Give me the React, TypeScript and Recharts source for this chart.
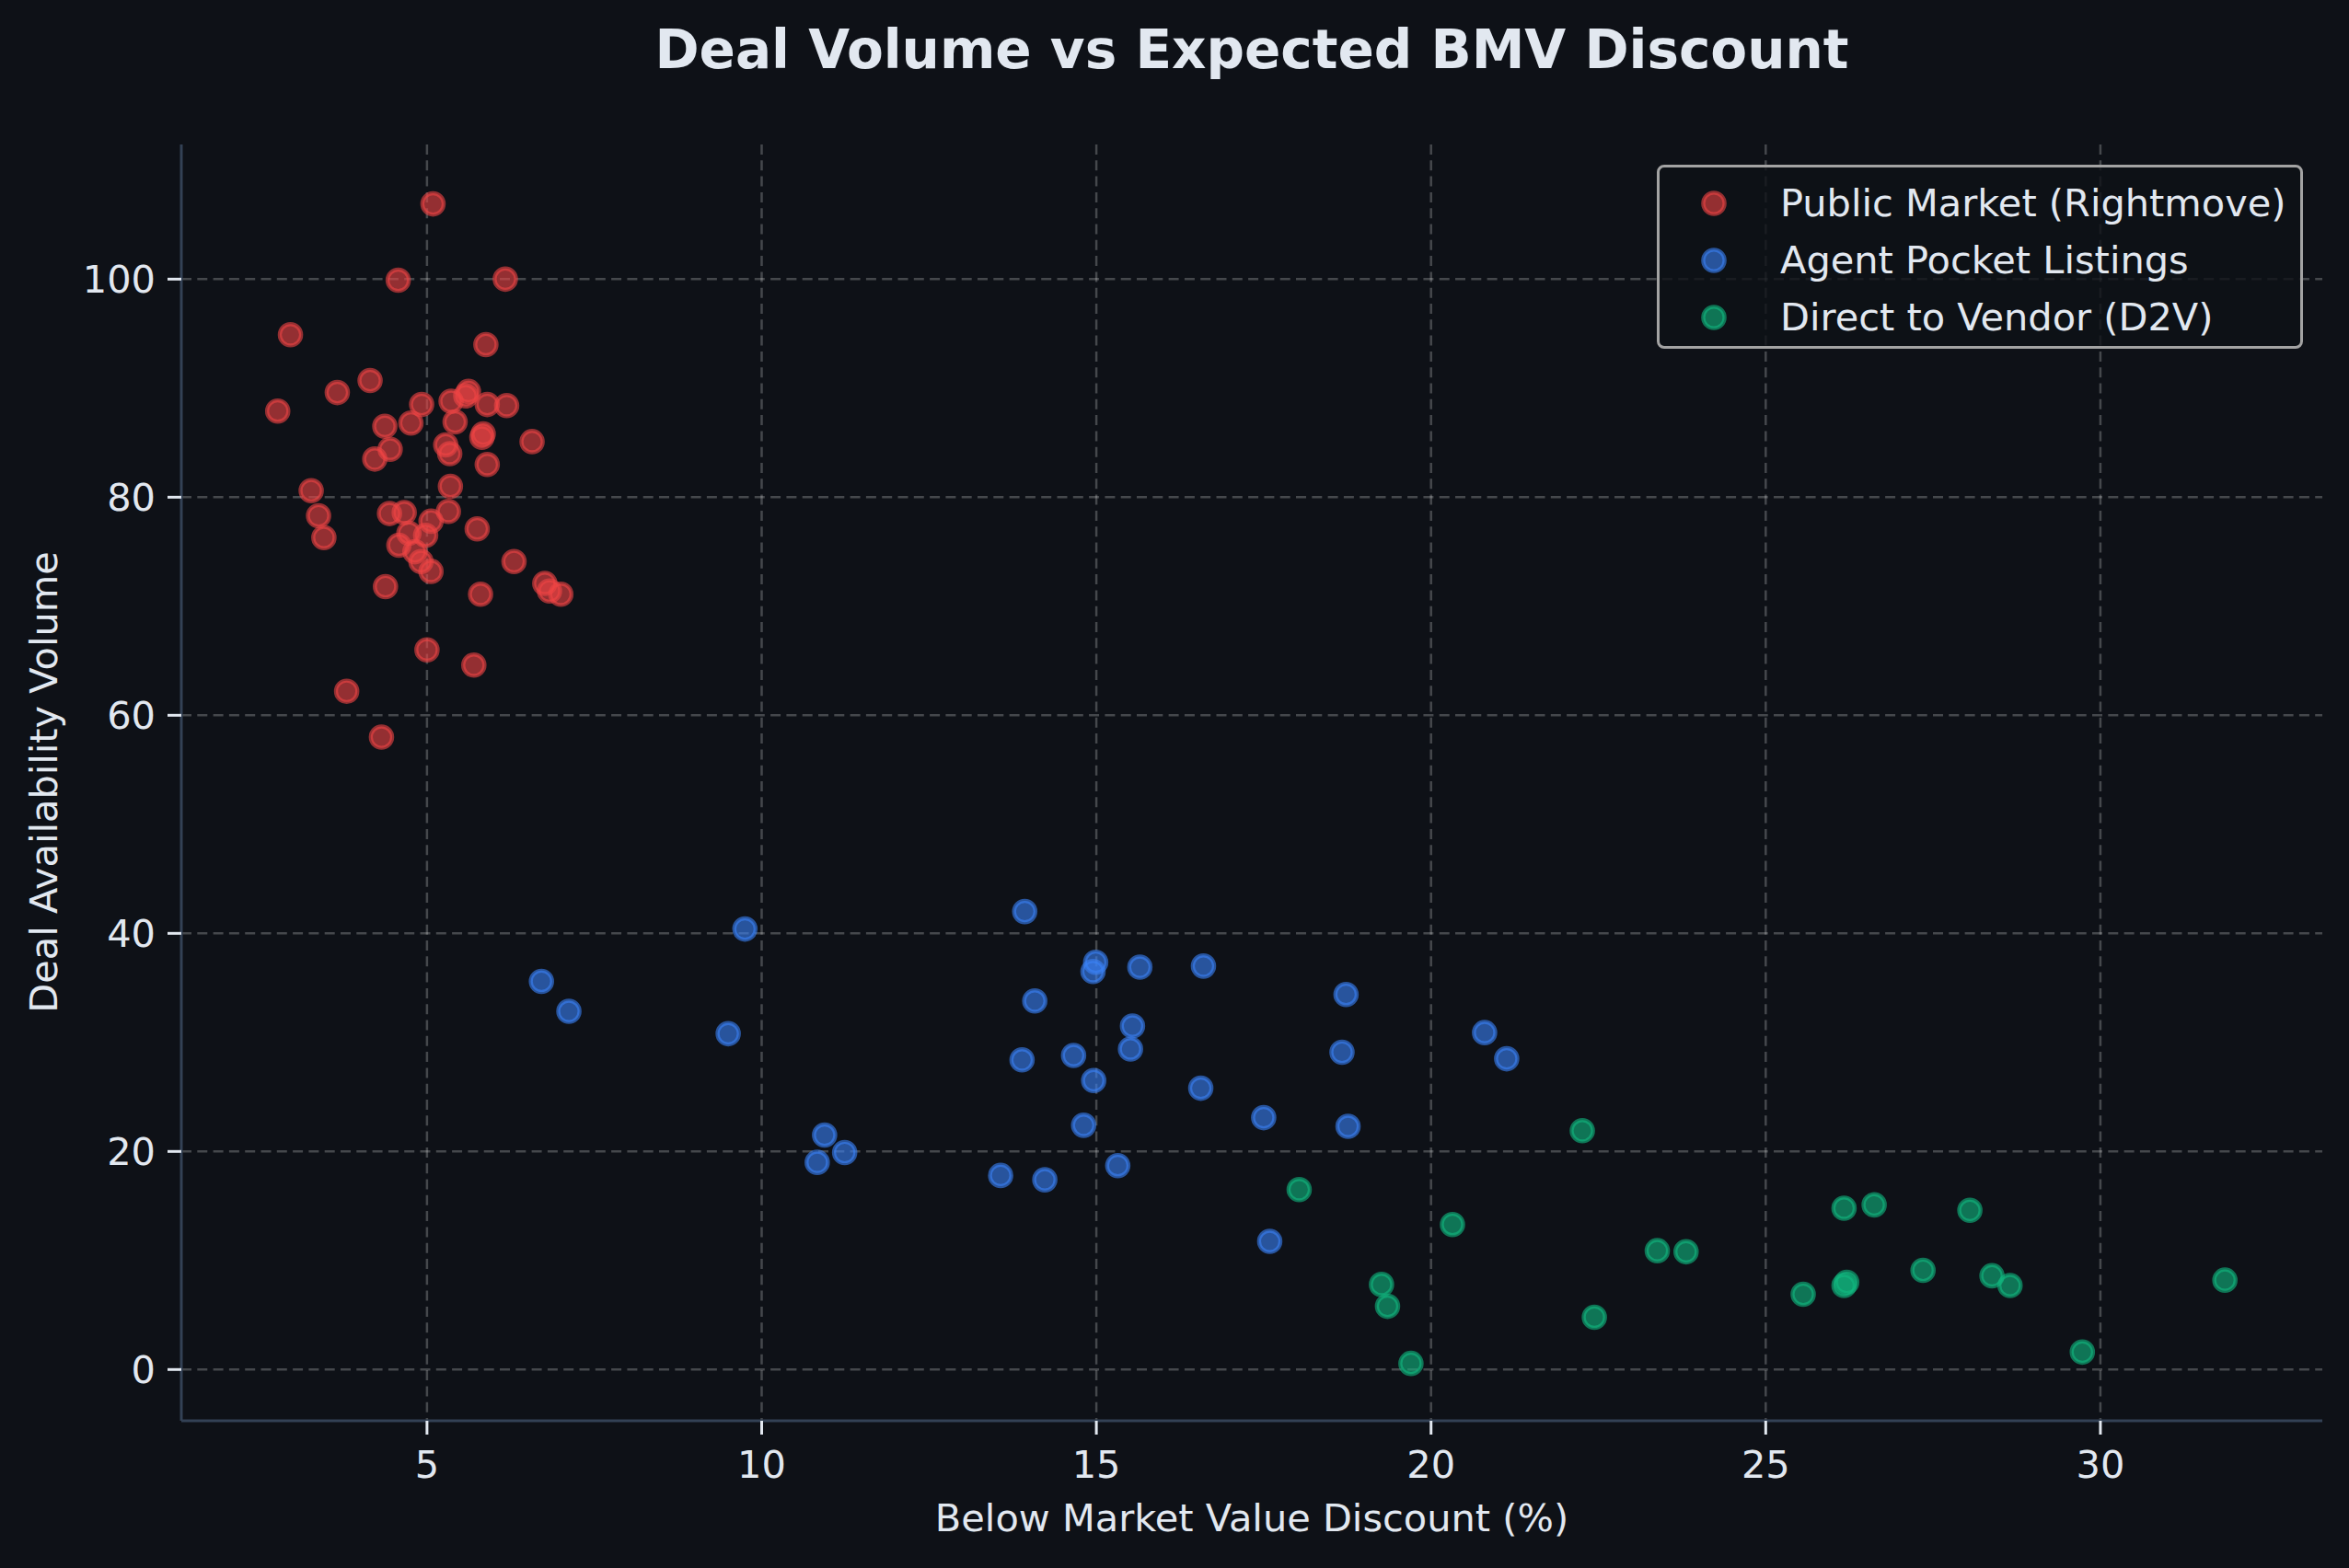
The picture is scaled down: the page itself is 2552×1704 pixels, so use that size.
import { ScatterChart, Scatter, XAxis, YAxis, CartesianGrid, Legend } from "recharts";

// [discount %, deal volume]
const publicMarket = [
  [5.09, 106.9], [4.57, 99.9], [6.17, 100.0], [2.96, 94.9], [5.88, 94.0],
  [4.15, 90.7], [3.66, 89.6], [5.58, 89.3], [5.62, 89.7], [5.36, 88.8],
  [5.9, 88.5], [6.19, 88.4], [4.92, 88.5], [2.77, 87.9], [4.37, 86.5],
  [4.76, 86.8], [5.42, 86.9], [5.82, 85.5], [5.84, 85.8], [6.57, 85.1],
  [4.45, 84.4], [4.22, 83.5], [5.28, 84.8], [5.34, 84.0], [5.9, 83.0],
  [5.35, 81.0], [3.27, 80.6], [3.38, 78.3], [4.44, 78.5], [4.66, 78.6],
  [5.32, 78.7], [5.06, 77.8], [5.75, 77.1], [3.46, 76.3], [4.73, 76.7],
  [4.98, 76.5], [4.58, 75.6], [4.82, 75.0], [4.91, 74.1], [5.06, 73.2],
  [6.3, 74.1], [6.76, 72.1], [6.83, 71.4], [7.0, 71.1], [4.38, 71.8],
  [5.8, 71.1], [5.0, 66.0], [5.7, 64.6], [3.8, 62.2], [4.32, 58.0],
];

const agentPocket = [
  [9.75, 40.4], [6.71, 35.6], [7.12, 32.85], [9.5, 30.8], [10.94, 21.5],
  [11.24, 19.9], [10.83, 19.0], [13.93, 42.0], [14.99, 37.35], [14.95, 36.5],
  [15.65, 36.9], [16.6, 37.0], [18.73, 34.4], [14.08, 33.8], [15.54, 31.5],
  [15.51, 29.4], [18.67, 29.1], [20.8, 30.9], [21.13, 28.5], [13.89, 28.4],
  [14.66, 28.8], [14.96, 26.5], [16.56, 25.8], [14.81, 22.4], [17.5, 23.1],
  [18.76, 22.3], [13.57, 17.8], [14.23, 17.4], [15.32, 18.7], [17.59, 11.75],
];

const directToVendor = [
  [18.03, 16.5], [19.26, 7.8], [19.35, 5.8], [19.7, 0.56], [20.32, 13.3],
  [22.26, 21.9], [22.44, 4.8], [23.38, 10.9], [23.81, 10.8], [25.56, 6.9],
  [26.17, 14.8], [26.62, 15.1], [28.05, 14.6], [26.17, 7.7], [26.21, 8.0],
  [27.35, 9.1], [28.38, 8.6], [28.65, 7.7], [29.73, 1.6], [31.86, 8.2],
];

const xTicks = [5, 10, 15, 20, 25, 30];
const yTicks = [0, 20, 40, 60, 80, 100];

const BG = "#0e1117";
const TEXT = "#e2e8f0";
const FONT = "DejaVu Sans";
const FS = 41.5;

const series = [
  { name: "Public Market (Rightmove)", color: "#ef4444", points: publicMarket },
  { name: "Agent Pocket Listings", color: "#3b82f6", points: agentPocket },
  { name: "Direct to Vendor (D2V)", color: "#10b981", points: directToVendor },
];

const toRows = (pts: number[][]) => pts.map(([x, y]) => ({ x, y }));

function Dot({ cx, cy, color }: { cx?: number; cy?: number; color: string }) {
  if (cx == null || cy == null) return null;
  return (
    <circle
      cx={cx}
      cy={cy}
      r={11.6}
      fill={color}
      fillOpacity={0.6}
      stroke={color}
      strokeOpacity={0.6}
      strokeWidth={4.4}
    />
  );
}

function LegendBox() {
  return (
    <div
      style={{
        boxSizing: "border-box",
        width: 702,
        height: 200,
        border: "3px solid #a3a3a3",
        borderRadius: 8,
        background: "rgba(14,17,23,0.8)",
        position: "relative",
      }}
    >
      {series.map((s, i) => (
        <div key={s.name} style={{ position: "absolute", left: 0, top: 39 + i * 62.2 - 30, height: 60, width: 700 }}>
          <svg width={120} height={60} style={{ position: "absolute", left: 0, top: 0 }}>
            <Dot cx={59} cy={30} color={s.color} />
          </svg>
          <span
            style={{
              position: "absolute",
              left: 131,
              top: 0,
              lineHeight: "60px",
              fontFamily: FONT,
              fontSize: FS,
              color: TEXT,
              whiteSpace: "nowrap",
            }}
          >
            {s.name}
          </span>
        </div>
      ))}
    </div>
  );
}

export default function App() {
  return (
    <div style={{ position: "absolute", left: 0, top: 0, width: 2552, height: 1704, background: BG }}>
      <ScatterChart width={2552} height={1704} margin={{ top: 157, right: 29, bottom: 0, left: 0 }}>
        <CartesianGrid
          stroke="#ffffff"
          strokeOpacity={0.23}
          strokeWidth={2.5}
          strokeDasharray="11 6.3"
          syncWithTicks
        />
        <XAxis
          type="number"
          dataKey="x"
          domain={[1.33, 33.315]}
          ticks={xTicks}
          allowDataOverflow
          height={160}
          tickSize={15}
          tickMargin={18}
          axisLine={{ stroke: "#334155", strokeWidth: 3 }}
          tickLine={{ stroke: TEXT, strokeWidth: 3 }}
          tick={{ fill: TEXT, fontSize: FS, fontFamily: FONT }}
        />
        <YAxis
          type="number"
          dataKey="y"
          domain={[-4.7, 112.35]}
          ticks={yTicks}
          allowDataOverflow
          width={197}
          tickSize={15}
          tickMargin={13}
          axisLine={{ stroke: "#334155", strokeWidth: 3 }}
          tickLine={{ stroke: TEXT, strokeWidth: 3 }}
          tick={{ fill: TEXT, fontSize: FS, fontFamily: FONT }}
        />
        {series.map((s) => (
          <Scatter
            key={s.name}
            name={s.name}
            data={toRows(s.points)}
            fill={s.color}
            isAnimationActive={false}
            shape={(p: any) => <Dot cx={p.cx} cy={p.cy} color={s.color} />}
          />
        ))}
        <Legend
          layout="vertical"
          align="center"
          verticalAlign="middle"
          wrapperStyle={{ top: 179, left: 1800, width: 702, height: 200 }}
          content={() => <LegendBox />}
        />
      </ScatterChart>
      <svg
        width={2552}
        height={1704}
        style={{ position: "absolute", left: 0, top: 0, pointerEvents: "none" }}
      >
        <text x={1360} y={74} textAnchor="middle" fill={TEXT} fontFamily={FONT} fontSize={58} fontWeight="bold">
          Deal Volume vs Expected BMV Discount
        </text>
        <text x={1360} y={1664} textAnchor="middle" fill={TEXT} fontFamily={FONT} fontSize={FS}>
          Below Market Value Discount (%)
        </text>
        <text
          x={0}
          y={0}
          transform="translate(62 850) rotate(-90)"
          textAnchor="middle"
          fill={TEXT}
          fontFamily={FONT}
          fontSize={FS}
        >
          Deal Availability Volume
        </text>
      </svg>
    </div>
  );
}
